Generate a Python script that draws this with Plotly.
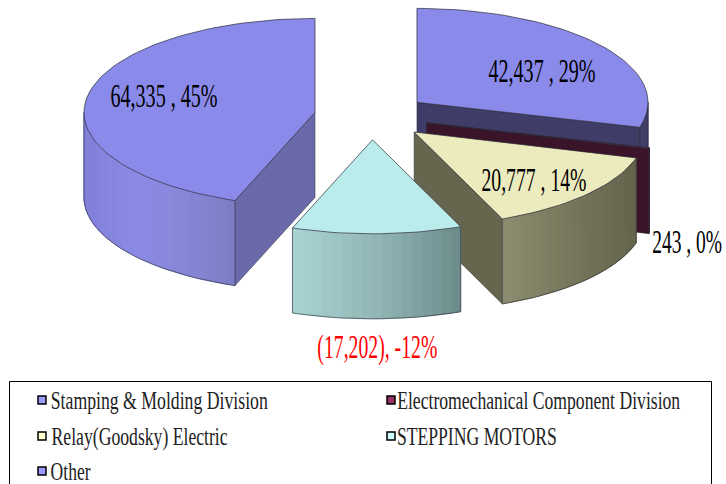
import json
import math
import plotly.graph_objects as go

categories = ["Stamping & Molding Division", "Electromechanical Component Division",
              "Relay(Goodsky) Electric", "STEPPING MOTORS", "Other"]
values = [42437, 243, 20777, 17202, 64335]
slice_labels = ["42,437 , 29%", "243 , 0%", "20,777 , 14%", "(17,202), -12%", "64,335 , 45%"]

legend_colors = ["#9999ff", "#993366", "#ffffcc", "#ccffff", "#9999ff"]
top_colors = ["#8a8aeb", "#5a2040", "#ecebbd", "#bbecec", "#8a8aeb"]
cut_colors = ["#3f3c68", "#3a1428", "#66664f", "#6b8b8b", "#6a69aa"]
rim_stops = [
    ["#3f3c68", "#3f3c68"],
    ["#3a1428", "#3a1428"],
    ["#8c8c70", "#77775c", "#64644d"],
    ["#a9d4d4", "#92b5b5", "#6b8b8b"],
    ["#7f7fd8", "#8b8be6", "#8686d8", "#7c7cc4"],
]

CX, CY, A, B, DEPTH, PULL = 371.4, 116.5, 231, 94, 85, 0.248
total = sum(values)


def hex2rgb(h):
    return [int(h[i:i + 2], 16) for i in (1, 3, 5)]


def ramp(stops, t):
    p = t * (len(stops) - 1)
    i = min(int(p), len(stops) - 2)
    f = p - i
    c0, c1 = hex2rgb(stops[i]), hex2rgb(stops[i + 1])
    return "rgb(%d,%d,%d)" % tuple(round(u + (v - u) * f) for u, v in zip(c0, c1))


fig = go.Figure()


def poly(xs, ys, fill, line=None, width=0.9):
    fig.add_trace(go.Scatter(
        x=xs + xs[:1], y=ys + ys[:1], mode="lines", fill="toself", fillcolor=fill,
        line=dict(color=line or fill, width=width), hoverinfo="skip", showlegend=False))


def on_rim(ax, ay, deg):
    r = math.radians(deg)
    return ax + A * math.sin(r), ay - B * math.cos(r)


geom = []
start = 0.0
for v in values:
    span = v / total * 360
    mid = math.radians(start + span / 2)
    geom.append((start, start + span,
                 CX + PULL * A * math.sin(mid), CY - PULL * B * math.cos(mid)))
    start += span

EDGE = "#2b2b38"
for i in [4, 0, 1, 2, 3]:
    a0, a1, ax, ay = geom[i]
    # cut faces that look towards the viewer
    for ang in (a0, a1):
        px, py = on_rim(ax, ay, ang)
        if (i == 4 and ang == a0) or (i in (0, 1, 2) and ang == a1):
            poly([ax, px, px, ax], [ay, py, py + DEPTH, ay + DEPTH], cut_colors[i], EDGE, 0.5)
    # outer wall, only the part facing the viewer
    lo, hi = max(a0, 90), min(a1, 270)
    if hi > lo:
        n = max(2, int((hi - lo) / 2.5))
        xs_all = [on_rim(ax, ay, lo + (hi - lo) * k / n)[0] for k in range(n + 1)]
        xmin, xmax = min(xs_all), max(xs_all)
        for k in range(n):
            d0, d1 = lo + (hi - lo) * k / n, lo + (hi - lo) * (k + 1) / n
            x0, y0 = on_rim(ax, ay, d0)
            x1, y1 = on_rim(ax, ay, d1)
            t = (((x0 + x1) / 2) - xmin) / max(xmax - xmin, 1)
            poly([x0, x1, x1, x0], [y0, y1, y1 + DEPTH, y0 + DEPTH], ramp(rim_stops[i], t))
        pts = [on_rim(ax, ay, lo + (hi - lo) * k / n) for k in range(n + 1)]
        ex = [p[0] for p in pts]
        ey = [p[1] + DEPTH for p in pts]
        fig.add_trace(go.Scatter(x=[ex[0]] + ex + [ex[-1]],
                                 y=[ey[0] - DEPTH] + ey + [ey[-1] - DEPTH],
                                 mode="lines", line=dict(color=EDGE, width=0.6),
                                 hoverinfo="skip", showlegend=False))
    # top face
    n = max(2, int((a1 - a0) / 2))
    rim = [on_rim(ax, ay, a0 + (a1 - a0) * k / n) for k in range(n + 1)]
    poly([ax] + [p[0] for p in rim], [ay] + [p[1] for p in rim], top_colors[i], EDGE, 0.7)

# legend swatches
swatch_x = [42, 391, 42, 391, 42]
swatch_y = [400, 400, 436, 436, 471]
text_x = [51, 397, 51, 397, 51]
text_w = [217, 283, 176, 160, 40]
fig.add_trace(go.Scatter(x=swatch_x, y=swatch_y, mode="markers", hoverinfo="skip", showlegend=False,
                         marker=dict(symbol="square", size=8, color=legend_colors,
                                     line=dict(color="black", width=1.5))))

LABEL_POS = [(542, 71), (687, 242), (534, 180), (377, 347), (164, 96)]
LABEL_W = [107, 70, 105, 120, 107]
annos = []
widths = {}
for lab, (x, y), w, col in zip(slice_labels, LABEL_POS, LABEL_W,
                               ["black", "black", "black", "#ff0000", "black"]):
    annos.append(dict(x=x, y=y, text=lab, showarrow=False, xanchor="center", yanchor="middle",
                      font=dict(family="Liberation Serif", size=33, color=col)))
    widths[lab] = w
for cat, x, y, w in zip(categories, text_x, swatch_y, text_w):
    annos.append(dict(x=x + w / 2, y=y, text=cat, showarrow=False, xanchor="center", yanchor="middle",
                      font=dict(family="Liberation Serif", size=26, color="#222222")))
    widths[cat] = w

fig.update_layout(
    width=726, height=484, margin=dict(l=0, r=0, t=0, b=0),
    paper_bgcolor="white", plot_bgcolor="white", showlegend=False,
    xaxis=dict(range=[0, 726], visible=False, fixedrange=True),
    yaxis=dict(range=[484, 0], visible=False, fixedrange=True),
    annotations=annos,
    shapes=[dict(type="rect", xref="x", yref="y", x0=9.5, x1=711.5, y0=381.5, y1=500,
                 line=dict(color="black", width=1), fillcolor="rgba(0,0,0,0)", layer="below")],
)

post = """
document.body.style.margin = '0';
document.documentElement.style.overflow = 'hidden';
var W = %s;
document.querySelectorAll('.annotation-text').forEach(function (t) {
  var w = W[t.textContent];
  if (w) { t.setAttribute('textLength', w); t.setAttribute('lengthAdjust', 'spacingAndGlyphs'); }
});
""" % json.dumps(widths)
fig.write_html("out.html", post_script=post, config={"displayModeBar": False})
